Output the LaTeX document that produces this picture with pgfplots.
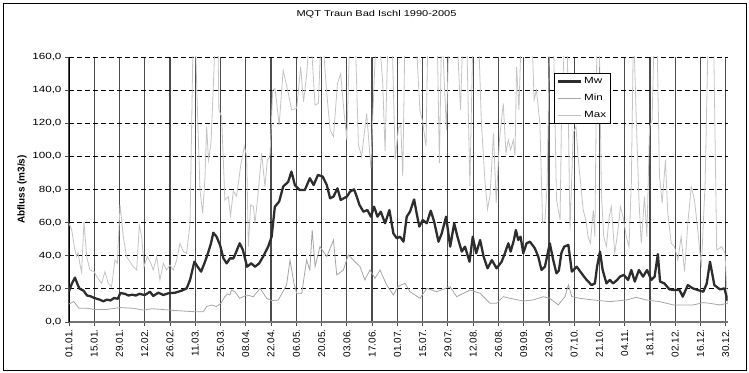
\documentclass[border=0pt]{standalone}
\usepackage{pgfplots}
\pgfplotsset{compat=1.18}
\usepackage{fontspec}
\setmainfont{Liberation Sans}
\newfontfamily\wide[FakeStretch=1.3]{Liberation Sans}
\definecolor{mwcol}{RGB}{45,45,45}
\definecolor{mincol}{RGB}{165,165,165}
\definecolor{maxcol}{RGB}{195,195,195}
\begin{document}
\begin{tikzpicture}
\path[use as bounding box] (0,0) rectangle (749bp,373bp);
\draw[black, line width=0.9bp] (3bp,3bp) rectangle (746bp,370bp);
\begin{axis}[
  at={(69bp,51bp)}, anchor=south west,
  scale only axis, width=658.5bp, height=265bp,
  xmin=0, xmax=365, ymin=0, ymax=160,
  axis x line*=bottom, axis y line*=left,
  x axis line style={black!55, line width=1.6bp},
  y axis line style={black, line width=0.8bp},
  xtick={0,14,...,364},
  xticklabels={01.01.,15.01.,29.01.,12.02.,26.02.,11.03.,25.03.,08.04.,22.04.,06.05.,20.05.,03.06.,17.06.,01.07.,15.07.,29.07.,12.08.,26.08.,09.09.,23.09.,07.10.,21.10.,04.11.,18.11.,02.12.,16.12.,30.12.},
  xticklabel style={rotate=90, anchor=east, font=\fontsize{10}{11}\selectfont},
  ytick={0,20,...,160},
  yticklabel style={font=\wide\fontsize{9}{10}\selectfont, /pgf/number format/.cd, fixed, fixed zerofill, precision=1, use comma, assume math mode=true},
  xmajorgrids, ymajorgrids,
  x grid style={solid, black!70, line width=1.2bp},
  y grid style={black, line width=0.8bp, dash pattern=on 5bp off 3bp},
  tick align=outside, major tick length=4bp,
  tick style={black!70, line width=0.8bp},
  ylabel={Abfluss (m3/s)},
  ylabel style={at={(axis description cs:-0.0714,0.5)}, anchor=center, font=\bfseries\fontsize{10}{11}\selectfont},
  title={MQT Traun Bad Ischl 1990-2005},
  title style={at={(axis description cs:0.467,1.14)}, anchor=center, font=\wide\fontsize{8.5}{10}\selectfont},
  reverse legend,
  legend style={at={(axis description cs:0.737,0.94)}, anchor=north west, draw=black, fill=white, font=\wide\fontsize{9}{10}\selectfont, inner sep=2.5bp, row sep=5bp, line width=0.8bp},
  legend cell align=left,
  legend image code/.code={\draw[#1] (0cm,0cm) -- (0.8cm,0cm);},
]
\addplot[maxcol, line width=0.8bp] coordinates {
(0,59.6) (1.5,55.6) (3,45) (4.2,39.5) (5,42) (6,35.4) (7,30) (8.3,60.6) (9.8,39.5) (11.6,31.4) (14,30.4) (15.3,27.4) (18.1,23.3) (19.9,30.4) (21.8,23.3) (23.6,21.3) (25.5,37.4) (26.8,35.4) (28.3,70.7) (30.1,51.5) (31.9,39.5) (33.8,36.4) (35.6,33.4) (37.5,31.4) (39,58.6) (40.3,51.5) (41.6,33.4) (43.4,39.5) (45.4,35.4) (46.7,31.4) (48.6,39.5) (50.4,25.4) (52.3,35.4) (54.1,31.4) (56,34.4) (57.8,31.4) (59.7,37.4) (61.5,47.5) (63.4,42.5) (65.2,41.5) (67.1,59.6) (68.9,180) (69.8,180) (71.3,124) (72.6,79.7) (74.1,65.6) (75.4,87.8) (76.3,118) (77.3,97.8) (78.7,108) (80,142) (81.3,180) (82.4,180) (83.1,128) (84.6,124) (86.4,73.7) (88.3,75.7) (89.5,64) (91.1,79) (92.9,76) (95.1,94) (97.2,106) (98.5,100) (99.4,45.5) (100.7,70.7) (102.2,69.6) (103.1,59.6) (105,79.7) (106.8,101.9) (108.6,81.7) (109.9,97.8) (111.4,99.8) (112.9,140) (114.2,141) (116.5,119) (118.7,152) (121.6,138) (123.4,128) (126.2,129) (128.4,154) (130,133) (131.8,150) (133.6,180) (136.4,131) (138.2,132) (140,180) (142.9,138) (144.7,116) (146.6,112) (148.8,144) (150.6,150) (152.5,126) (154,110) (155.8,180) (158.5,180) (160.4,107) (162.2,100) (165,126) (167.3,93) (169.6,158) (171.5,180) (173.9,144) (175.2,103) (177,180) (178.9,180) (180.8,98) (182.6,117) (183.9,119) (185,88) (186.3,180) (189,180) (191.9,180) (194.5,128) (196,121) (197.9,106) (199,180) (202,180) (204,180) (205.3,96) (206.6,180) (209.2,116) (210.7,180) (212.9,180) (214.8,180) (217,128) (218.5,180) (220.3,180) (222.2,82) (224,180) (226.8,180) (228.6,120) (230.5,86) (232,68) (233.4,77) (235.3,114) (236.8,72) (238.6,110) (240.7,132) (242.2,102) (243.5,110) (244.8,104) (246.3,110) (247.2,100) (248.1,154) (249.4,128) (250.8,180) (252.7,180) (254.5,180) (256.4,180) (257.8,134) (259.1,140) (261,120) (262.5,60) (263.8,61) (265,82) (266.5,180) (268.4,180) (270.2,74) (272.2,61.6) (273,124) (275,180) (276,180) (277.7,55.6) (279.5,114) (281,118) (282.3,97.8) (283.6,83.7) (285,67.6) (286.5,61.6) (287.7,51.5) (289,47.5) (290.6,67.6) (291.5,51.5) (292.7,180) (293.8,180) (295.1,77.7) (296.4,51.5) (297.9,45.5) (299.4,63.6) (300.6,69.6) (302.5,41.5) (304.3,55.6) (305.6,69.6) (307.1,63.6) (308.9,51.5) (310.4,45.5) (311.7,83.7) (312.9,180) (314.4,124) (315.9,73.7) (317.2,47.5) (319,75.7) (320.3,51.5) (321.8,118) (323.2,122) (324.5,180) (325.8,180) (327.3,87.8) (328.8,71.7) (330.6,97.8) (331.9,65.6) (333.8,47.5) (335.6,45.5) (337.5,37.4) (339.3,51.5) (341.2,30.4) (343,59.6) (344.9,81.7) (346.7,73.7) (348.5,55.6) (350.5,33) (352.6,84) (354.4,180) (357.2,180) (359,43.5) (361.8,45.5) (363.6,41.5) (365,11)
};
\addlegendentry{Max}
\addplot[mincol, line width=0.8bp] coordinates {
(0,10.9) (2.7,12.3) (5.5,8.3) (9.8,8.3) (14,7.6) (20.9,7.6) (28.3,8.7) (35.6,8.3) (41.2,7.2) (46,8) (51.4,7.6) (56,7.2) (60.7,6.8) (65,6.5) (69.8,6.2) (74.4,6.2) (76.3,9.3) (79,10.3) (81.8,9.3) (84.2,11.3) (86.4,15.3) (87.8,17) (89.2,16.3) (90.1,19.3) (92,18.3) (94.6,14.3) (98.5,16.3) (102.2,15.3) (105.9,20.3) (109.6,14.3) (112.3,12.9) (116,13.3) (120.6,22.3) (122.5,37.4) (124.7,23.3) (126.2,17.3) (129,17.3) (131.7,37.4) (133.5,31.4) (134.8,55.5) (136.4,33.4) (139.1,45.5) (142.9,39.5) (146.6,49.5) (148.4,28.4) (152.1,31.4) (154.8,40.5) (157.6,37.4) (161.3,33.4) (164,25.4) (166.8,31.4) (169.6,26.4) (172.4,31.4) (176.1,22.3) (179.8,16.3) (182.6,21.7) (186.3,23.3) (189,18.3) (194.6,14.3) (198.3,20.3) (203.8,18.3) (211.2,21.3) (214.9,15.3) (222.3,19.3) (227.9,17.3) (233.4,11.3) (237,11.3) (240.7,15.3) (244.4,14.3) (251.8,12.7) (257.3,13.3) (262.9,15.3) (266.5,14.3) (271.2,10.3) (274.9,15.3) (276.8,22.3) (278.7,15.3) (283.2,14.3) (290.6,13.3) (299.8,12.3) (309,13.3) (314.4,14.9) (320,13.3) (327.3,12.3) (335,10.3) (346,10.3) (351.5,11.7) (355.1,11.3) (360.7,10.3) (365,11.3)
};
\addlegendentry{Min}
\addplot[mwcol, line width=2.3bp, line join=round] coordinates {
(0,18.5) (1.5,23) (3.3,26.8) (5,22) (6,20) (8,19) (10,16) (12,15.5) (14,14.5) (17,13.5) (19,12.5) (21,13.5) (23,13) (25,14.5) (27,14) (28.5,17.5) (31,17) (33,16) (35,16.5) (37,16) (39,17) (41,16.5) (42.1,16.3) (44.9,18.3) (46.7,15.7) (49.5,17.7) (52.3,16.3) (55,17.3) (58.8,17.7) (62.4,18.9) (65.2,20.3) (67.1,25.4) (69.5,36.4) (71.3,33.4) (73.2,30.4) (75.4,36.4) (77.3,42.5) (78.7,47.5) (80,53.9) (81.8,51.5) (83.7,46.5) (85.6,38.4) (87.4,35.4) (89.2,38.4) (91.1,38.4) (92,40.5) (94.6,47.5) (96.4,43.5) (98.7,33.4) (101,35.4) (103.1,33.4) (105.4,35.4) (107.6,39.5) (110.4,45.5) (112.3,51.5) (114.1,69.6) (116.5,72.7) (118.7,81.7) (121.5,84.7) (123.3,90.8) (125.2,82.7) (127.9,79.7) (130.7,79.7) (133.5,86.8) (135.6,82.7) (138,88.8) (140.6,87.8) (142.9,82.7) (144.7,74.7) (146.6,75.7) (148.8,80.7) (150.6,73.7) (154,75.7) (155.8,78.7) (158,80.1) (159.5,75.7) (161,70.7) (163.2,66.6) (165.4,67.6) (167.3,63.6) (169.1,69.6) (171,63.6) (172.8,66.6) (175.2,59.6) (177.6,67.6) (179.8,53.5) (181.7,50.5) (183.5,51.5) (185.4,48.5) (187.2,63.6) (189,66.6) (191.3,74) (192.7,65.6) (194.2,57.6) (196.1,61.6) (198.3,59.6) (200.5,67.2) (202.4,60.6) (204.8,48.5) (206.6,53.5) (209,63.6) (211.3,45.5) (213.5,59.6) (215.3,51.5) (217.7,42.5) (219.5,45.5) (222,36.4) (223.8,51.5) (225.7,41.5) (227.9,49.5) (229.8,39.5) (232,32.4) (234.4,37.4) (237,32.4) (239.8,36.4) (241.6,41.5) (243.5,47.5) (244.8,42.5) (246.6,49.5) (247.7,55.5) (249,49.5) (250.3,51.5) (251.8,41.5) (253.6,47.5) (255.5,48.5) (258.2,44.5) (260.1,39.5) (261.9,31.4) (263.8,33.4) (266.5,47.5) (268.4,37.4) (270.2,29.4) (271.5,31) (273,42) (274.5,45.5) (276.8,46.5) (278.7,30.4) (281.4,33.4) (284.1,29.4) (286.9,25.4) (289.7,22.3) (291.5,23.3) (292.7,33.4) (294.3,42.5) (295.8,31.4) (297.9,23.3) (299.8,25.4) (301.6,23.3) (303.8,25.4) (305.4,27.4) (307.5,28.4) (309.9,25.4) (311.7,31.4) (313.6,24.4) (315.9,31.4) (318.2,27.4) (320.4,31.4) (322.8,25.4) (324.6,27.4) (326.4,41) (327.6,24.4) (330,23.3) (332.8,19.7) (335.6,19.3) (338.4,19.3) (340.2,15.3) (343,22.3) (345.8,20.3) (348.5,19.3) (351.6,18.3) (353.5,23.3) (355.3,36.4) (357.7,22.3) (360.8,19.7) (363.3,20.3) (365,12.9)
};
\addlegendentry{Mw}
\end{axis}
\end{tikzpicture}
\end{document}
